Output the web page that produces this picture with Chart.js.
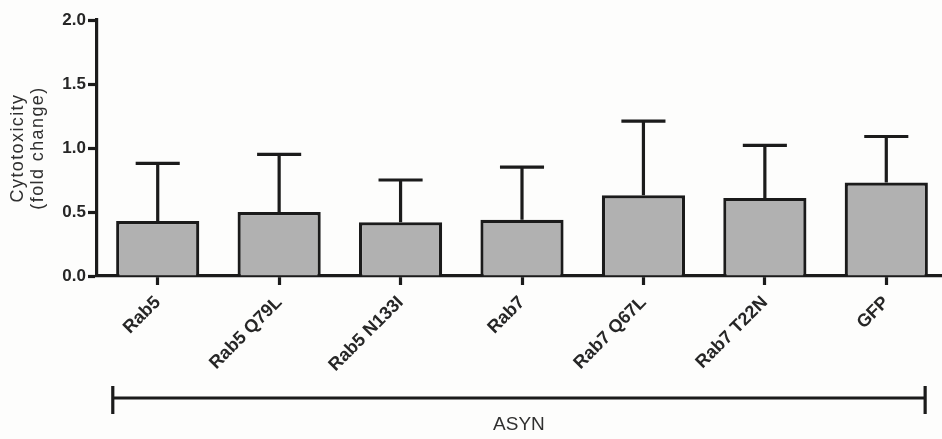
<!DOCTYPE html>
<html>
<head>
<meta charset="utf-8">
<script src="https://cdn.jsdelivr.net/npm/chart.js@4/dist/chart.umd.min.js"></script>
<style>
  html, body { margin: 0; padding: 0; background: #fdfdfc; overflow: hidden; }
  canvas { display: block; }
</style>
</head>
<body>
<canvas id="chart" width="947" height="439"></canvas>
<script>
// Cytotoxicity (fold change) per construct, mean with upper SEM whisker
const categories = ['Rab5', 'Rab5 Q79L', 'Rab5 N133I', 'Rab7', 'Rab7 Q67L', 'Rab7 T22N', 'GFP'];
const meanValues = [0.43, 0.50, 0.42, 0.44, 0.63, 0.61, 0.73];
const errorValues = [0.45, 0.45, 0.33, 0.41, 0.58, 0.41, 0.36];
const yTicks = [0.0, 0.5, 1.0, 1.5, 2.0];
const yTitleLines = ['Cytotoxicity', '(fold change)'];
const groupLabel = 'ASYN';

const INK = '#1b1b1b';
const TEXT = '#262626';
const FONT = '"Liberation Sans", Arial, Helvetica, sans-serif';

// Upper-only error whiskers with a cap
const errorBarPlugin = {
  id: 'errorBars',
  afterDatasetsDraw(chart) {
    const { ctx } = chart;
    const yScale = chart.scales.y;
    const meta = chart.getDatasetMeta(0);
    ctx.save();
    ctx.strokeStyle = INK;
    ctx.lineWidth = 3.2;
    ctx.lineCap = 'butt';
    meta.data.forEach((bar, i) => {
      const xc = bar.x;
      const yTop = yScale.getPixelForValue(meanValues[i]);
      const yEnd = yScale.getPixelForValue(meanValues[i] + errorValues[i]);
      const half = bar.width * 0.265;
      ctx.beginPath();
      ctx.moveTo(xc, yTop);
      ctx.lineTo(xc, yEnd);
      ctx.moveTo(xc - half, yEnd);
      ctx.lineTo(xc + half, yEnd);
      ctx.stroke();
    });
    ctx.restore();
  }
};

// Rotated, letter-spaced y-axis title and the group bracket under the labels
const annotationPlugin = {
  id: 'annotations',
  afterDraw(chart) {
    const { ctx, chartArea } = chart;
    const xScale = chart.scales.x;

    ctx.save();
    const cy = (chartArea.top + chartArea.bottom) / 2;
    ctx.fillStyle = '#303030';
    ctx.font = '18px ' + FONT;
    ctx.letterSpacing = '1.4px';
    ctx.textAlign = 'center';
    ctx.textBaseline = 'middle';
    yTitleLines.forEach((line, i) => {
      ctx.save();
      ctx.translate(chartArea.left - 79 + i * 20, cy);
      ctx.rotate(-Math.PI / 2);
      ctx.fillText(line, 0, 0);
      ctx.restore();
    });
    ctx.restore();

    const step = xScale.getPixelForValue(1) - xScale.getPixelForValue(0);
    const x0 = xScale.getPixelForValue(0) - 0.37 * step;
    const x1 = xScale.getPixelForValue(categories.length - 1) + 0.32 * step;
    const by = chartArea.bottom + 122;
    ctx.save();
    ctx.strokeStyle = INK;
    ctx.lineWidth = 3.2;
    ctx.beginPath();
    ctx.moveTo(x0, by);
    ctx.lineTo(x1, by);
    ctx.moveTo(x0, by - 12);
    ctx.lineTo(x0, by + 16);
    ctx.moveTo(x1, by - 12);
    ctx.lineTo(x1, by + 16);
    ctx.stroke();
    ctx.fillStyle = '#303030';
    ctx.font = '19px ' + FONT;
    ctx.textAlign = 'center';
    ctx.textBaseline = 'middle';
    ctx.fillText(groupLabel, (x0 + x1) / 2, by + 27);
    ctx.restore();
  }
};

new Chart(document.getElementById('chart'), {
  type: 'bar',
  data: {
    labels: categories,
    datasets: [{
      data: meanValues,
      backgroundColor: '#b1b1b1',
      borderColor: INK,
      borderWidth: 3.2,
      borderSkipped: 'start',
      categoryPercentage: 1.0,
      barPercentage: 0.685
    }]
  },
  options: {
    responsive: false,
    animation: false,
    devicePixelRatio: 1,
    layout: { padding: { top: 20, right: 0, bottom: 0, left: 0 } },
    plugins: {
      legend: { display: false },
      tooltip: { enabled: false }
    },
    scales: {
      x: {
        z: 1,
        offset: true,
        grid: {
          offset: false,
          drawOnChartArea: false,
          drawTicks: true,
          tickLength: 9,
          tickWidth: 3.2,
          tickColor: INK
        },
        border: { display: true, color: INK, width: 3.2 },
        ticks: {
          autoSkip: false,
          minRotation: 45,
          maxRotation: 45,
          padding: 7,
          color: TEXT,
          font: { family: FONT, size: 18, weight: 'bold' }
        },
        afterFit(scale) { scale.height = 163; }
      },
      y: {
        min: 0,
        max: 2,
        grid: {
          drawOnChartArea: false,
          drawTicks: true,
          tickLength: 9,
          tickWidth: 3.2,
          tickColor: INK
        },
        border: { display: true, color: INK, width: 3.2 },
        ticks: {
          padding: 2,
          color: TEXT,
          font: { family: FONT, size: 17, weight: 'bold' },
          callback: (v) => Number(v).toFixed(1)
        },
        afterBuildTicks(scale) { scale.ticks = yTicks.map(v => ({ value: v })); },
        afterFit(scale) { scale.width = 97; }
      }
    }
  },
  plugins: [errorBarPlugin, annotationPlugin]
});
</script>
</body>
</html>
